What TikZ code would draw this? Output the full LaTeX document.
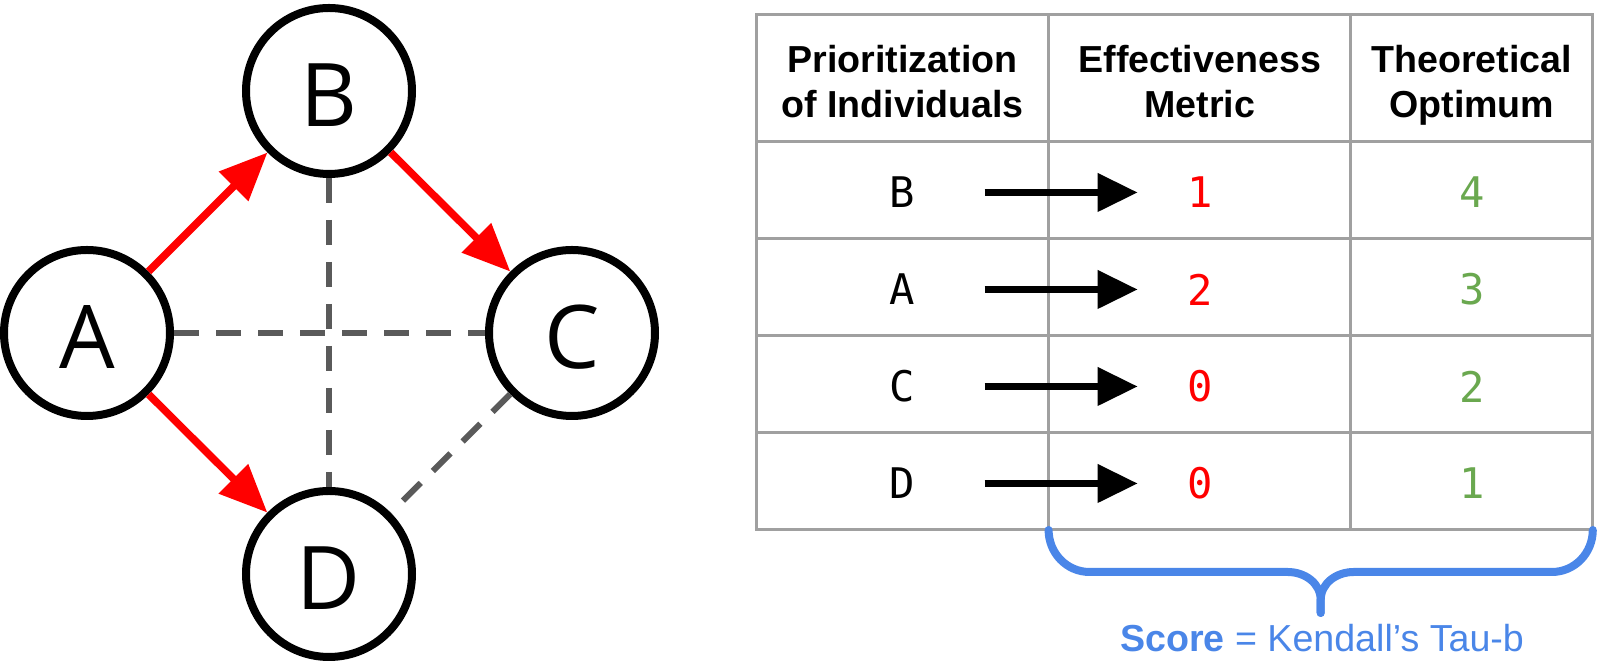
\documentclass[tikz,border=0pt]{standalone}
\usepackage{fontspec}
\setmainfont{Liberation Sans}
\setmonofont{DejaVu Sans Mono}
\newfontfamily\circfont{Open Sans}
\usepackage{xcolor}
\usepackage{tikz}
\usetikzlibrary{arrows.meta, positioning, calc}

\definecolor{effred}{RGB}{255,0,0}
\definecolor{optgreen}{RGB}{106,168,79}
\definecolor{scoreblue}{RGB}{74,134,232}
\definecolor{rulegray}{RGB}{160,160,160}
\definecolor{linkgray}{RGB}{90,90,90}

\begin{document}
\begin{tikzpicture}[
  person/.style={draw, circle, line width=0.08cm, minimum size=1.66cm, inner sep=0pt,
               fill=white, text height=0.72cm, text depth=0pt,
               font=\circfont\fontsize{25}{25}\selectfont},
  prio/.style={-{Triangle[length=0.48cm, width=0.40cm]}, line width=0.075cm, effred},
  link/.style={line width=0.06cm, linkgray, dash pattern=on 0.25cm off 0.17cm},
  hdr/.style={align=center, font=\bfseries\fontsize{10.7}{12.8}\selectfont,
              inner sep=0pt, text depth=0pt},
  cell/.style={font=\ttfamily\fontsize{12}{14}\selectfont, inner sep=0pt},
  maparr/.style={-{Triangle[length=0.40cm, width=0.37cm]}, line width=0.07cm},
  tablerule/.style={line width=0.03cm, rulegray},
  scorebrace/.style={line width=0.08cm, scoreblue, line cap=round, line join=round},
]
  \useasboundingbox (0,0) rectangle (16.01,-6.65);

  % Graph of individuals
  \node[person] (A) at (0.87,-3.33) {A};
  \node[person] (B) at (3.29,-0.91) {B};
  \node[person] (C) at (5.72,-3.33) {C};
  \node[person] (D) at (3.29,-5.74) {D};

  \foreach \i/\j in {A/C,B/D,C/D} {
    \draw[link] (\i) -- (\j);
  }
  \foreach \i/\j in {A/B,B/C,A/D} {
    \draw[prio] (\i) -- (\j);
  }

  % Table
  \draw[tablerule] (7.566,-0.143) rectangle (15.928,-5.30);
  \foreach \y in {-1.42,-2.39,-3.36,-4.33} {
    \draw[tablerule] (7.566,\y) -- (15.928,\y);
  }
  \draw[tablerule] (10.486,-0.143) -- (10.486,-5.30);
  \draw[tablerule] (13.508,-0.143) -- (13.508,-5.30);

  \node[hdr] (hprio) at (9.026,-0.81)  {Prioritization\\of Individuals};
  \node[hdr] (heff)  at (11.997,-0.81) {Effectiveness\\Metric};
  \node[hdr] (hopt)  at (14.718,-0.81) {Theoretical\\Optimum};

  \foreach \n/\e/\o [count=\i] in {B/1/4,A/2/3,C/0/2,D/0/1} {
    \node[cell] (n\i) at (9.026,{-1.44-0.97*(\i-0.5)}) {\n};
    \node[cell, text=effred] (e\i) at (11.997,{-1.44-0.97*(\i-0.5)}) {\e};
    \node[cell, text=optgreen] (o\i) at (14.718,{-1.44-0.97*(\i-0.5)}) {\o};
    \draw[maparr] ([xshift=0.82cm]n\i.center) -- ([xshift=-0.62cm]e\i.center);
  }

  % Brace and score
  \coordinate (brL) at (10.486,-5.30);
  \coordinate (brR) at (15.928,-5.30);
  \coordinate (brT) at (13.207,-6.13);
  \draw[scorebrace] (brL) to[out=-90,in=180] ($(brL)+(0.41,-0.42)$)
    -- ($(brT)+(-0.33,0.41)$) to[out=0,in=90] ($(brT)+(0,0.13)$) -- (brT);
  \draw[scorebrace] (brT) -- ($(brT)+(0,0.13)$) to[out=90,in=180] ($(brT)+(0.33,0.41)$)
    -- ($(brR)+(-0.41,-0.42)$) to[out=0,in=-90] (brR);
  \node[font=\fontsize{10.7}{12.8}\selectfont, text=scoreblue, anchor=base] (score)
    at (13.22,-6.52) {\textbf{Score} = Kendall’s Tau-b};
\end{tikzpicture}
\end{document}
